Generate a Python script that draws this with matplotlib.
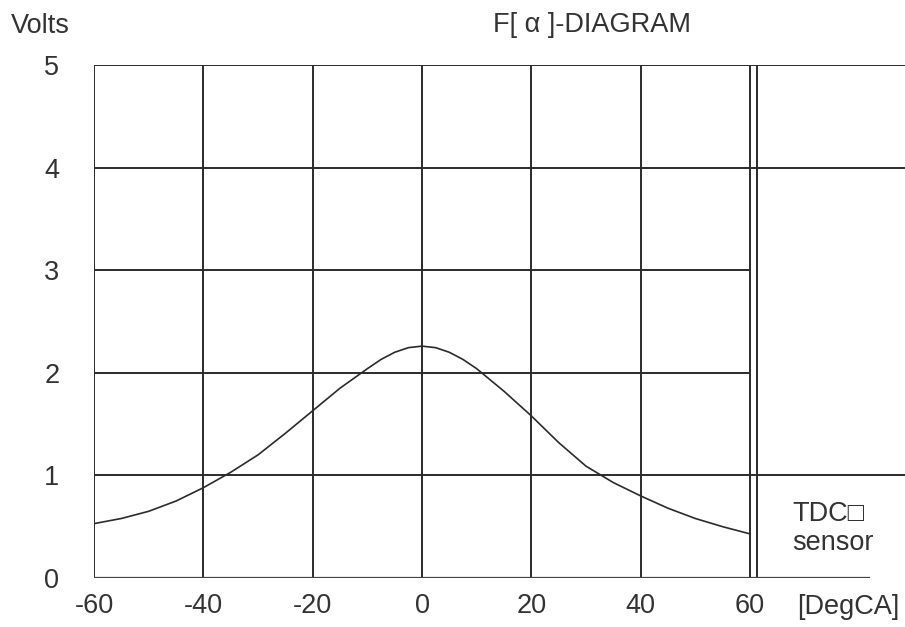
import matplotlib
matplotlib.use("Agg")
import matplotlib.pyplot as plt

plt.rcParams['font.family'] = ['Liberation Sans', 'DejaVu Sans']
plt.rcParams['axes.unicode_minus'] = False

# curve (degrees crank angle -> volts)
angle = [-60, -55, -50, -45, -40, -35, -30, -25, -20, -15, -10, -7.5, -5, -2.5, 0,
         2.5, 5, 7.5, 10, 15, 20, 25, 30, 35, 40, 45, 50, 55, 60]
volts = [0.53, 0.58, 0.65, 0.75, 0.88, 1.03, 1.20, 1.41, 1.63, 1.85, 2.04, 2.13, 2.20, 2.245, 2.26,
         2.245, 2.20, 2.13, 2.04, 1.82, 1.58, 1.32, 1.09, 0.93, 0.80, 0.68, 0.58, 0.50, 0.43]

x_ticks = [-60, -40, -20, 0, 20, 40, 60]
y_ticks = [0, 1, 2, 3, 4, 5]
x_right = 88.35      # frame runs off the right edge of the picture
tdc_mark = 61.3      # second line of the TDC double line

line_col = '#2b2b2b'
text_col = '#333333'
fs = 19.5

fig = plt.figure(figsize=(9.05, 6.27), dpi=100)
ax = fig.add_axes([94 / 905, 1 - 578 / 627, 1 - 94 / 905, (578 - 65) / 627])
ax.set_xlim(-60, x_right)
ax.set_ylim(0, 5)
for s in ax.spines.values():
    s.set_visible(False)

# grid: vertical lines
ax.vlines(x_ticks, 0, 5, color=line_col, lw=1.4)
ax.vlines([tdc_mark], 0, 5, color=line_col, lw=1.4)

# horizontal lines: some cross the sensor area, some stop at 60
ax.hlines([5, 4, 1], -60, x_right, color=line_col, lw=1.4)
ax.hlines([3, 2], -60, 60, color=line_col, lw=1.4)
ax.hlines([0], -60, 82, color='#444444', lw=1.6)

ax.plot(angle, volts, color=line_col, lw=1.2)

ax.set_xticks(x_ticks)
ax.set_yticks(y_ticks)
ax.tick_params(length=0, labelsize=fs, labelcolor=text_col)
ax.tick_params(axis='x', pad=11)
ax.tick_params(axis='y', pad=25)

fig.text(40 / 905, 1 - 26 / 627, 'Volts', ha='center', va='center',
         fontsize=fs, color=text_col)
fig.text(592 / 905, 1 - 25 / 627, 'F[ α ]-DIAGRAM', ha='center', va='center',
         fontsize=fs, color=text_col)
ax.text(68.6, -0.28, '[DegCA]', ha='left', va='center', fontsize=fs,
        color=text_col, clip_on=False)
ax.text(67.7, 0.48, 'TDC□\nsensor', ha='left', va='center', fontsize=fs,
        color=text_col, linespacing=1.15)

fig.savefig('out.png', dpi=100)
